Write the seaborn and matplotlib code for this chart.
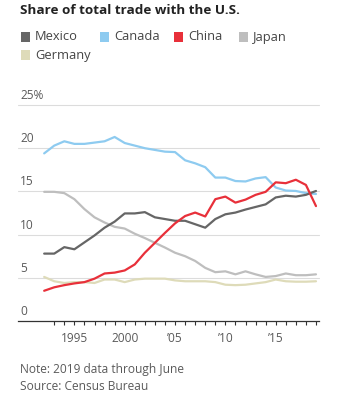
import matplotlib
matplotlib.use("Agg")
import matplotlib.pyplot as plt
from matplotlib.patches import Rectangle
import seaborn as sns
import pandas as pd

years = list(range(1992, 2020))

mexico = [7.8, 7.8, 8.55, 8.3, 9.1, 9.9, 10.8, 11.5, 12.45, 12.45, 12.6, 12.0, 11.8, 11.6,
          11.6, 11.2, 10.8, 11.8, 12.35, 12.55, 12.9, 13.2, 13.5, 14.3, 14.5, 14.4, 14.6, 15.05]
canada = [19.4, 20.3, 20.8, 20.5, 20.5, 20.65, 20.8, 21.3, 20.6, 20.3, 20.0, 19.8, 19.6, 19.55,
          18.6, 18.25, 17.8, 16.6, 16.6, 16.2, 16.15, 16.5, 16.65, 15.45, 15.1, 15.05, 14.8, 14.7]
china = [3.5, 3.9, 4.15, 4.35, 4.5, 4.9, 5.5, 5.6, 5.85, 6.55, 7.9, 9.05, 10.2, 11.3,
         12.15, 12.55, 12.1, 14.1, 14.4, 13.7, 14.05, 14.6, 14.95, 16.05, 15.95, 16.35, 15.75, 13.3]
japan = [14.95, 14.95, 14.8, 14.1, 12.95, 12.0, 11.4, 10.9, 10.7, 10.1, 9.6, 9.05, 8.5, 7.9,
         7.5, 6.95, 6.15, 5.65, 5.75, 5.4, 5.75, 5.4, 5.1, 5.2, 5.5, 5.3, 5.3, 5.4]
germany = [5.1, 4.6, 4.4, 4.5, 4.5, 4.4, 4.8, 4.8, 4.5, 4.8, 4.9, 4.9, 4.9, 4.7,
           4.6, 4.6, 4.6, 4.5, 4.2, 4.15, 4.2, 4.35, 4.5, 4.8, 4.6, 4.55, 4.55, 4.6]

countries = ["Mexico", "Canada", "China", "Japan", "Germany"]
colors = ["#666666", "#8ecbf0", "#e8303a", "#bebebe", "#dedbb9"]

y_ticks = [0, 5, 10, 15, 20, 25]
y_tick_labels = ["0", "5", "10", "15", "20", "25%"]
x_major = [1995, 2000, 2005, 2010, 2015]
x_major_labels = ["1995", "2000", "\u201905", "\u201910", "\u201915"]

df = pd.DataFrame({
    "year": years * 5,
    "share": mexico + canada + china + japan + germany,
    "country": sum([[c] * len(years) for c in countries], []),
})

sns.set_theme(style="white")
plt.rcParams["font.family"] = ["Open Sans", "DejaVu Sans"]

W, H = 340, 405
fig = plt.figure(figsize=(W / 100, H / 100), dpi=100)
left, right, top, bottom = 18, 319, 105, 321
ax = fig.add_axes([left / W, 1 - bottom / H, (right - left) / W, (bottom - top) / H])

# draw back-to-front so the lighter series sit underneath
order = ["Germany", "Japan", "Canada", "Mexico", "China"]
palette = dict(zip(countries, colors))
for name in order:
    sns.lineplot(data=df[df.country == name], x="year", y="share", color=palette[name],
                 linewidth=1.6, ax=ax, legend=False)

ax.set_xlim(1989.4, 2019.3)
ax.set_ylim(0, 25)
ax.set_xlabel("")
ax.set_ylabel("")

for v in y_ticks[1:]:
    ax.axhline(v, color="#dcdcdc", linewidth=0.8, zorder=0, clip_on=False)
ax.set_yticks([])
for v, lab in zip(y_ticks, y_tick_labels):
    ax.text(0.007, v + 0.35, lab, transform=ax.get_yaxis_transform(), ha="left", va="bottom",
            fontsize=8.6, color="#5a5a5a")

for s in ["top", "right", "left"]:
    ax.spines[s].set_visible(False)
ax.spines["bottom"].set_color("#333333")
ax.spines["bottom"].set_linewidth(0.9)

ax.set_xticks(x_major)
ax.set_xticklabels(x_major_labels, fontsize=8.6, color="#5a5a5a")
ax.set_xticks(list(range(1993, 2020)), minor=True)
ax.tick_params(axis="x", which="both", direction="out", length=3, width=0.8, color="#333333",
               bottom=True, pad=5)

fig.text(20 / W, 1 - 10 / H, "Share of total trade with the U.S.", fontsize=9.7,
         fontweight="bold", color="#222222", ha="left", va="center")

legend_pos = [(21, 37), (100, 37), (174, 37), (239, 37), (21, 55)]
for (lx, ly), name, col in zip(legend_pos, countries, colors):
    fig.patches.append(Rectangle((lx / W, 1 - (ly + 4.5) / H), 9 / W, 9 / H,
                                 transform=fig.transFigure, facecolor=col, edgecolor="none"))
    fig.text((lx + 14) / W, 1 - ly / H, name, fontsize=9.3, color="#444444",
             ha="left", va="center")

fig.text(20 / W, 1 - 370 / H, "Note: 2019 data through June", fontsize=8.6,
         color="#5a5a5a", ha="left", va="center")
fig.text(20 / W, 1 - 387 / H, "Source: Census Bureau", fontsize=8.6,
         color="#5a5a5a", ha="left", va="center")

fig.savefig("out.png", dpi=100, facecolor="white")
